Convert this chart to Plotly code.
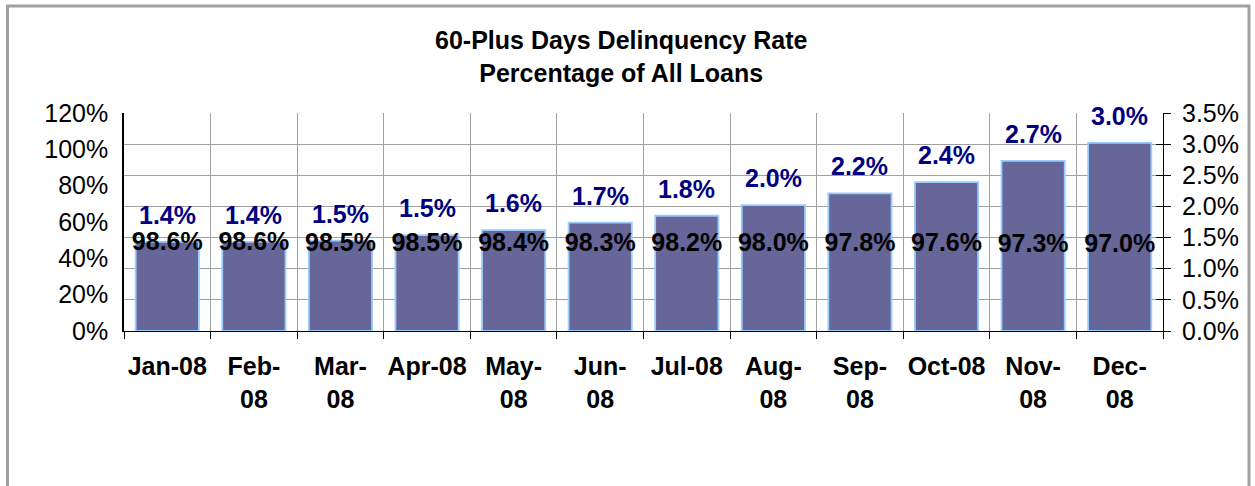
import plotly.graph_objects as go

# ---------------- data ----------------
months = ["Jan-08", "Feb-08", "Mar-08", "Apr-08", "May-08", "Jun-08",
          "Jul-08", "Aug-08", "Sep-08", "Oct-08", "Nov-08", "Dec-08"]
month_ticktext = ["Jan-08", "Feb-<br>08", "Mar-<br>08", "Apr-08", "May-<br>08", "Jun-<br>08",
                  "Jul-08", "Aug-<br>08", "Sep-<br>08", "Oct-08", "Nov-<br>08", "Dec-<br>08"]
delinquency_rate = [0.0143, 0.0143, 0.0145, 0.0154, 0.0162, 0.0174,
                    0.0185, 0.0202, 0.0221, 0.0239, 0.0273, 0.0302]
delinquency_labels = ["1.4%", "1.4%", "1.5%", "1.5%", "1.6%", "1.7%",
                      "1.8%", "2.0%", "2.2%", "2.4%", "2.7%", "3.0%"]
current_share = [0.986, 0.986, 0.985, 0.985, 0.984, 0.983,
                 0.982, 0.980, 0.978, 0.976, 0.973, 0.970]
current_labels = ["98.6%", "98.6%", "98.5%", "98.5%", "98.4%", "98.3%",
                  "98.2%", "98.0%", "97.8%", "97.6%", "97.3%", "97.0%"]

# ---------------- layout constants ----------------
W, H = 1255, 486
PL, PR, PT, PB = 124, 1163, 113, 331  # plot area in pixels
FONT = "Arial, 'Liberation Sans', Helvetica, sans-serif"
GRID = "#a0a0a0"
FS = 25


def px_to_paper_x(px):
    return (px - PL) / (PR - PL)


def px_to_paper_y(py):
    return (PB - py) / (PB - PT)


fig = go.Figure()

# visible bars: delinquency rate (right-hand scale)
fig.add_trace(go.Bar(
    x=months, y=delinquency_rate, yaxis="y",
    marker=dict(color="#666699", line=dict(color="#99CCFF", width=1.8)),
    name="60+ days", hoverinfo="x+y",
))

# invisible bars: current loans share (left-hand scale) carrying centred labels
fig.add_trace(go.Bar(
    x=months, y=current_share, yaxis="y2",
    marker=dict(color="rgba(0,0,0,0)", line=dict(width=0)),
    text=current_labels, textposition="inside", insidetextanchor="middle",
    textangle=0, constraintext="none",
    insidetextfont=dict(family=FONT, size=FS, color="black", weight="bold"),
    textfont=dict(family=FONT, size=FS, color="black", weight="bold"),
    name="current", hoverinfo="skip",
))

annotations = [
    dict(x=m, y=v, xref="x", yref="y", text=t, showarrow=False,
         yanchor="bottom", yshift=11,
         font=dict(family=FONT, size=FS, color="#000080", weight="bold"))
    for m, v, t in zip(months, delinquency_rate, delinquency_labels)
]

fig.update_layout(
    width=W, height=H,
    margin=dict(l=PL, r=W - PR, t=PT, b=H - PB, pad=0, autoexpand=False),
    paper_bgcolor="white", plot_bgcolor="white",
    showlegend=False,
    barmode="overlay", bargap=0.27,
    title=dict(text="<b>60-Plus Days Delinquency Rate<br>Percentage of All Loans</b>",
               x=0.495, xref="container", xanchor="center",
               y=1 - 49 / H, yref="container", yanchor="middle",
               font=dict(family=FONT, size=FS, color="black")),
    xaxis=dict(type="category", categoryorder="array", categoryarray=months,
               range=[-0.5, len(months) - 0.5],
               tickmode="array", tickvals=months, ticktext=month_ticktext,
               tickangle=0,
               tickson="boundaries", ticks="outside", ticklen=7, tickcolor="black",
               showline=True, linecolor="black", linewidth=1,
               showgrid=True, gridcolor=GRID, gridwidth=1,
               ticklabelstandoff=13, automargin=False,
               tickfont=dict(family=FONT, size=FS, color="black", weight="bold")),
    yaxis=dict(range=[0, 0.035], dtick=0.005, tickformat=".1%", side="right",
               showline=True, linecolor="black", linewidth=1,
               ticks="outside", ticklen=7, tickcolor="black",
               showgrid=True, gridcolor=GRID, gridwidth=1, zeroline=False,
               ticklabelstandoff=6, automargin=False,
               tickfont=dict(family=FONT, size=FS, color="black")),
    yaxis2=dict(range=[0, 1.2], dtick=0.2, tickformat=".0%", side="left",
                overlaying="y", anchor="x",
                showline=True, linecolor="black", linewidth=1.5,
                ticks="", showgrid=False, zeroline=False,
                ticklabelstandoff=9, automargin=False,
                tickfont=dict(family=FONT, size=FS, color="black")),
    yaxis3=dict(range=[0, 0.035], dtick=0.005, side="right",
                overlaying="y", anchor="x",
                ticks="inside", ticklen=7, tickcolor="black", automargin=False,
                showticklabels=False, showline=False, showgrid=False, zeroline=False),
    annotations=annotations,
    shapes=[dict(type="rect", xref="paper", yref="paper",
                 x0=px_to_paper_x(7.5), x1=px_to_paper_x(1249),
                 y0=px_to_paper_y(520), y1=px_to_paper_y(6),
                 line=dict(color="#a0a0a0", width=3), fillcolor="rgba(0,0,0,0)",
                 layer="below")],
)

# empty trace so that the tick-only overlay axis is rendered
fig.add_trace(go.Scatter(x=[months[0]], y=[None], yaxis="y3", mode="markers",
                         hoverinfo="skip", showlegend=False))

fig.write_html("out.html",
               config={"displayModeBar": False},
               post_script="document.body.style.margin='0px';document.body.style.overflow='hidden';")
